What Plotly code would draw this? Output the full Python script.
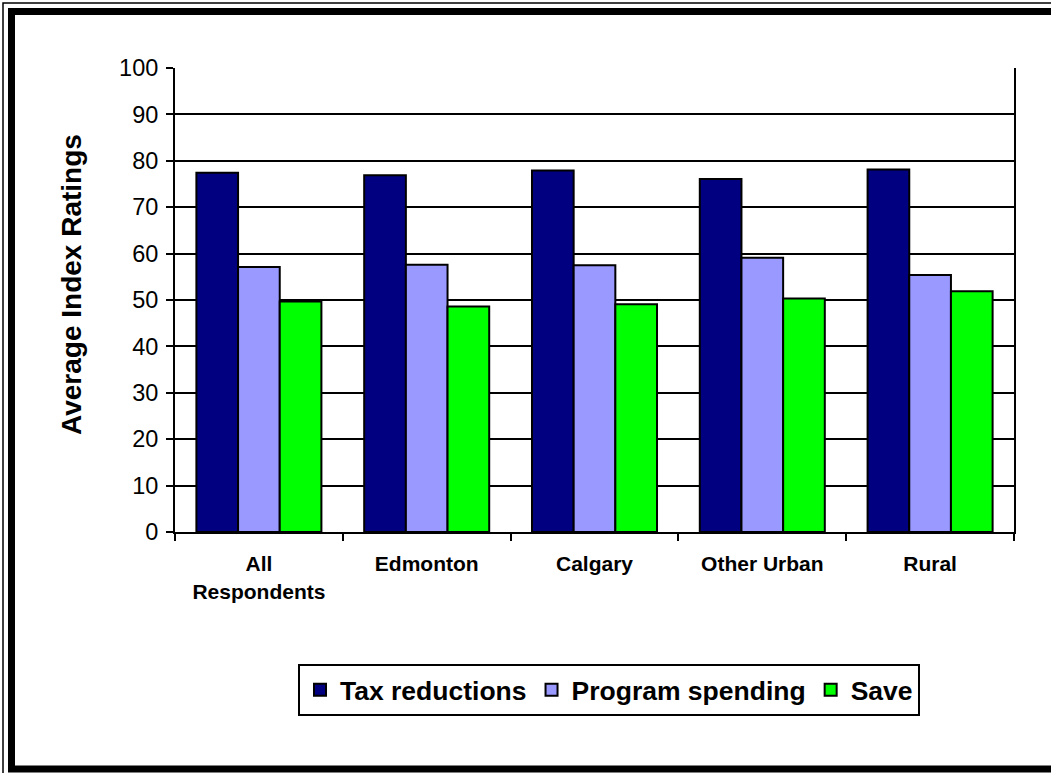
import plotly.graph_objects as go

# Survey results: average index ratings by region
categories = ["All<br>Respondents", "Edmonton", "Calgary", "Other Urban", "Rural"]
series_names = ["Tax reductions", "Program spending", "Save"]
tax_reductions = [77.4, 76.9, 77.9, 76.1, 78.1]
program_spending = [57.1, 57.6, 57.5, 59.1, 55.4]
save = [49.7, 48.6, 49.1, 50.3, 51.9]
y_ticks = list(range(0, 101, 10))
y_title = "Average Index Ratings"

colors = ["#000080", "#9999FF", "#00FF00"]
font_family = "Liberation Sans, Arial, sans-serif"

W, H = 1051, 773
L, R, T, B = 175, 37, 68, 241
PW, PH = W - L - R, H - T - B


def px_x(p):
    return (p - L) / PW


def px_y(p):
    return (H - B - p) / PH


fig = go.Figure()
for name, vals, col in zip(series_names, [tax_reductions, program_spending, save], colors):
    fig.add_trace(go.Bar(
        name=name, x=categories, y=vals,
        marker=dict(color=col, line=dict(color="black", width=2)),
    ))

fig.update_layout(
    width=W, height=H,
    margin=dict(l=L, r=R, t=T, b=B),
    paper_bgcolor="white", plot_bgcolor="white",
    barmode="group", bargap=0.255, bargroupgap=0,
    font=dict(family=font_family, color="black"),
    showlegend=True,
    legend=dict(
        orientation="h", x=px_x(298), y=px_y(664),
        xanchor="left", yanchor="top",
        bordercolor="black", borderwidth=2, bgcolor="white",
        font=dict(family=font_family, size=26.5, color="black", weight="bold"),
        itemclick=False, itemdoubleclick=False,
    ),
    xaxis=dict(
        showline=True, linecolor="black", linewidth=2,
        ticks="outside", tickson="boundaries", ticklen=7, tickwidth=2, tickcolor="black",
        tickfont=dict(family=font_family, size=21, color="black", weight="bold"),
        ticklabelstandoff=12,
        showgrid=False, fixedrange=True,
    ),
    yaxis=dict(
        range=[0, 100], tickvals=y_ticks,
        showline=True, linecolor="black", linewidth=2, mirror=True,
        ticks="outside", ticklen=7, tickwidth=2, tickcolor="black",
        tickfont=dict(family=font_family, size=23.5, color="black"),
        ticklabelstandoff=3,
        showgrid=True, gridcolor="black", gridwidth=2,
        zeroline=False, fixedrange=True,
    ),
    annotations=[
        dict(text=y_title, xref="paper", yref="paper",
             x=px_x(71), y=px_y(285), xanchor="center", yanchor="middle",
             textangle=-90, showarrow=False,
             font=dict(family=font_family, size=28, color="black", weight="bold")),
    ],
    shapes=[
        # thin outer frame
        dict(type="rect", xref="paper", yref="paper",
             x0=px_x(3), y0=px_y(3), x1=px_x(1080), y1=px_y(790),
             line=dict(color="black", width=1.5), fillcolor="rgba(0,0,0,0)", layer="above"),
        # heavy inner frame
        dict(type="rect", xref="paper", yref="paper",
             x0=px_x(11.5), y0=px_y(11.5), x1=px_x(1070), y1=px_y(769),
             line=dict(color="black", width=7), fillcolor="rgba(0,0,0,0)", layer="above"),
    ],
)

fig.write_html("out.html", config={"displayModeBar": False})
